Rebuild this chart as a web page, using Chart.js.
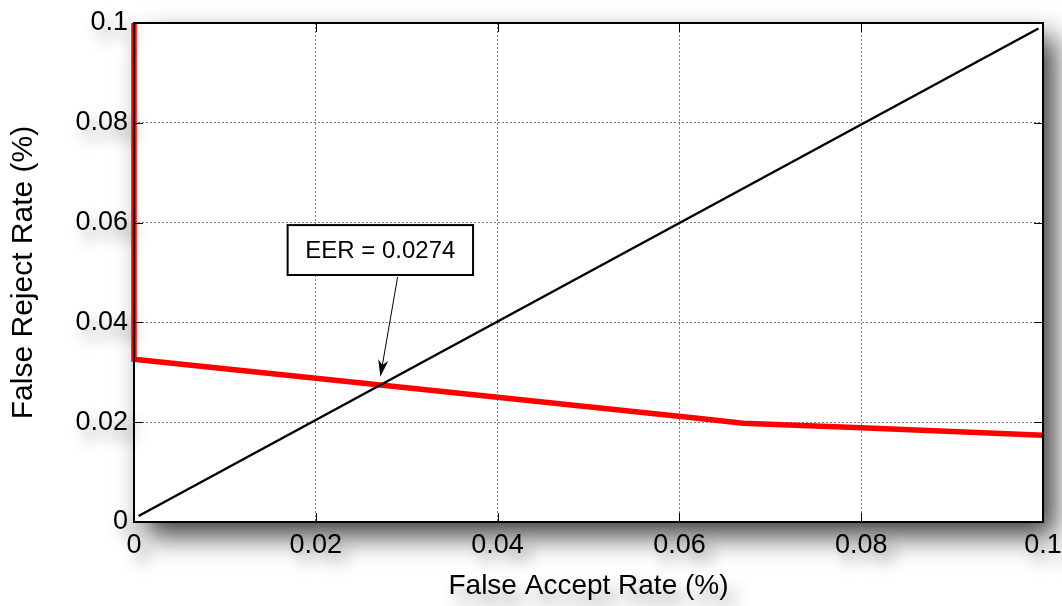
<!DOCTYPE html>
<html>
<head>
<meta charset="utf-8">
<script src="https://cdn.jsdelivr.net/npm/chart.js@4"></script>
<style>
  body { margin: 0; background: #fff; }
  #wrap { width: 1062px; height: 606px; }
</style>
</head>
<body>
<div id="wrap"><canvas id="eerChart" width="1062" height="606"></canvas></div>
<script>
// red curve: FRR against FAR
const farValues = [0, 0, 0.04, 0.062, 0.067, 0.08, 0.1];
const frrValues = [0.1, 0.0326, 0.025, 0.0208, 0.0198, 0.0189, 0.0174];
// black diagonal FAR = FRR
const diagX = [0.0005, 0.0995];
const diagY = [0.0012, 0.0989];
const xTickLabels = ["0", "0.02", "0.04", "0.06", "0.08", "0.1"];
const yTickLabels = ["0", "0.02", "0.04", "0.06", "0.08", "0.1"];
const eerText = "EER = 0.0274";

// where the text box and arrow sit, in data units
const eerNote = { x0: 0.0169, x1: 0.0373, y0: 0.0495, y1: 0.0595, tailX: 0.0290, tailY: 0.0491, tipX: 0.0271, tipY: 0.0291 };

const FONT = "'Liberation Sans', Arial, sans-serif";
Chart.defaults.font.family = FONT;
Chart.defaults.color = "#000";

const shadowPlugin = {
  id: "shadow",
  beforeDraw(chart) {
    const { ctx, chartArea: a, scales } = chart;
    ctx.save();
    ctx.shadowColor = "rgba(0,0,0,0.75)";
    ctx.shadowBlur = 26;
    ctx.shadowOffsetX = 12;
    ctx.shadowOffsetY = 14;
    ctx.fillStyle = "#fff";
    ctx.fillRect(a.left, a.top, a.right - a.left, a.bottom - a.top);

    // only the shadows of the texts: draw them off canvas and shift the shadow back
    const far = 5000;
    ctx.shadowColor = "rgba(0,0,0,0.45)";
    ctx.shadowBlur = 16;
    ctx.shadowOffsetX = far + 8;
    ctx.shadowOffsetY = 10;
    ctx.fillStyle = "#000";
    ctx.textBaseline = "middle";
    ctx.font = "27px " + FONT;
    ctx.textAlign = "right";
    scales.y.ticks.forEach(t => ctx.fillText(t.label, a.left - 6 - far, scales.y.getPixelForValue(t.value)));
    ctx.textAlign = "center";
    scales.x.ticks.forEach(t => ctx.fillText(t.label, scales.x.getPixelForValue(t.value) - far, a.bottom + 25));
    ctx.font = "28px " + FONT;
    ctx.fillText("False Accept Rate (%)", (a.left + a.right) / 2 - far, 587);
    ctx.restore();
  }
};

const framePlugin = {
  id: "frame",
  afterDraw(chart) {
    const { ctx, chartArea: a, scales } = chart;
    const sx = scales.x, sy = scales.y;
    ctx.save();
    ctx.strokeStyle = "#000";
    ctx.lineWidth = 1;
    // inward tick marks on all four sides
    ctx.beginPath();
    sx.ticks.forEach(t => {
      const px = Math.round(sx.getPixelForValue(t.value)) + 0.5;
      ctx.moveTo(px, a.bottom); ctx.lineTo(px, a.bottom - 9);
      ctx.moveTo(px, a.top); ctx.lineTo(px, a.top + 9);
    });
    sy.ticks.forEach(t => {
      const py = Math.round(sy.getPixelForValue(t.value)) + 0.5;
      ctx.moveTo(a.left, py); ctx.lineTo(a.left + 9, py);
      ctx.moveTo(a.right, py); ctx.lineTo(a.right - 9, py);
    });
    ctx.stroke();
    ctx.lineWidth = 2;
    ctx.strokeRect(a.left, a.top, a.right - a.left, a.bottom - a.top);

    // EER note
    const bx0 = sx.getPixelForValue(eerNote.x0), bx1 = sx.getPixelForValue(eerNote.x1);
    const by0 = sy.getPixelForValue(eerNote.y1), by1 = sy.getPixelForValue(eerNote.y0);
    ctx.fillStyle = "#fff";
    ctx.fillRect(bx0, by0, bx1 - bx0, by1 - by0);
    ctx.lineWidth = 2;
    ctx.strokeRect(bx0, by0, bx1 - bx0, by1 - by0);
    ctx.fillStyle = "#000";
    ctx.font = "24px " + FONT;
    ctx.textAlign = "center";
    ctx.textBaseline = "middle";
    ctx.fillText(eerText, (bx0 + bx1) / 2, (by0 + by1) / 2 + 1);

    const tx = sx.getPixelForValue(eerNote.tailX), ty = sy.getPixelForValue(eerNote.tailY);
    const hx = sx.getPixelForValue(eerNote.tipX), hy = sy.getPixelForValue(eerNote.tipY);
    const ang = Math.atan2(hy - ty, hx - tx);
    ctx.lineWidth = 1;
    ctx.beginPath();
    ctx.moveTo(tx, ty);
    ctx.lineTo(hx - 10 * Math.cos(ang), hy - 10 * Math.sin(ang));
    ctx.stroke();
    const len = 17, half = 5;
    const bxp = hx - len * Math.cos(ang), byp = hy - len * Math.sin(ang);
    const nx = -Math.sin(ang), ny = Math.cos(ang);
    ctx.beginPath();
    ctx.moveTo(hx, hy);
    ctx.lineTo(bxp + nx * half, byp + ny * half);
    ctx.lineTo(hx - 12 * Math.cos(ang), hy - 12 * Math.sin(ang));
    ctx.lineTo(bxp - nx * half, byp - ny * half);
    ctx.closePath();
    ctx.fill();
    ctx.restore();
  }
};

const ctx = document.getElementById("eerChart").getContext("2d");
new Chart(ctx, {
  type: "scatter",
  data: {
    datasets: [
      {
        label: "FAR = FRR",
        data: diagX.map((x, i) => ({ x, y: diagY[i] })),
        showLine: true,
        borderColor: "#000",
        borderWidth: 2.5,
        pointRadius: 0,
        order: 0
      },
      {
        label: "FRR",
        data: farValues.map((x, i) => ({ x, y: frrValues[i] })),
        showLine: true,
        borderColor: "#ff0000",
        borderWidth: 5.5,
        pointRadius: 0,
        clip: false,
        order: 1
      }
    ]
  },
  options: {
    responsive: false,
    animation: false,
    events: [],
    layout: { padding: { top: 23, right: 19, left: 0, bottom: 0 } },
    plugins: {
      legend: { display: false },
      tooltip: { enabled: false }
    },
    scales: {
      x: {
        type: "linear",
        min: 0,
        max: 0.1,
        ticks: {
          stepSize: 0.02,
          callback: (v, i) => xTickLabels[i],
          font: { size: 27 },
          padding: 7,
          maxRotation: 0,
          autoSkip: false
        },
        grid: { color: "#808080", lineWidth: 1, drawTicks: false },
        border: { display: false, dash: [2, 2] },
        title: { display: true, text: "False Accept Rate (%)", font: { size: 28 }, padding: { top: 0, bottom: 3 } },
        afterFit: s => { s.height = 84; s.paddingLeft = 0; s.paddingRight = 0; }
      },
      y: {
        type: "linear",
        min: 0,
        max: 0.1,
        ticks: {
          stepSize: 0.02,
          callback: (v, i) => yTickLabels[i],
          font: { size: 27 },
          padding: 6,
          autoSkip: false
        },
        grid: { color: "#808080", lineWidth: 1, drawTicks: false },
        border: { display: false, dash: [2, 2] },
        title: { display: true, text: "False Reject Rate (%)", font: { size: 30 }, padding: { top: 6, bottom: 0 } },
        afterFit: s => { s.width = 134; s.paddingTop = 0; s.paddingBottom = 0; }
      }
    }
  },
  plugins: [shadowPlugin, framePlugin]
});
</script>
</body>
</html>
